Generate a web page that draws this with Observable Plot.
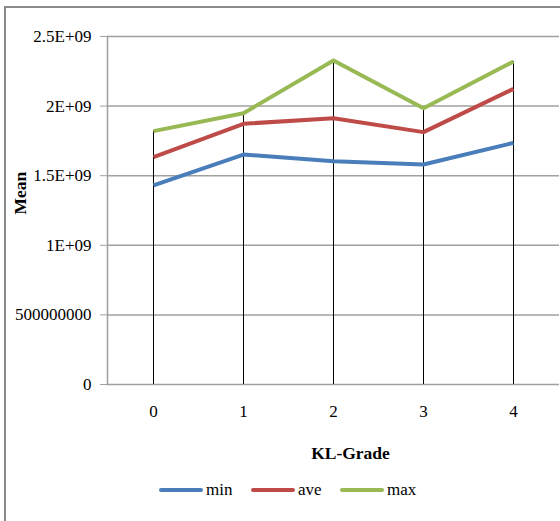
<!DOCTYPE html>
<html>
<head>
<meta charset="utf-8">
<script src="https://cdn.jsdelivr.net/npm/d3@7"></script>
<script src="https://cdn.jsdelivr.net/npm/@observablehq/plot@0.6"></script>
<style>
  html, body { margin: 0; padding: 0; background: #fff; }
  #wrap { position: relative; width: 560px; height: 521px; overflow: hidden; font-family: "Liberation Serif", "Times New Roman", serif; }
  #border { position: absolute; left: 4px; top: 6px; width: 560px; height: 530px; border-top: 2px solid #8a8a8a; border-left: 2px solid #8a8a8a; box-sizing: border-box; pointer-events: none; }
  #chart { position: absolute; left: 0; top: 0; }
  #chart svg text { font-family: "Liberation Serif", "Times New Roman", serif !important; }
  #legend { position: absolute; left: 0; top: 479px; width: 560px; height: 22px; }
  .item { position: absolute; top: 0; height: 22px; display: flex; align-items: center; font-size: 17px; color: #000; font-family: "Liberation Serif", "Times New Roman", serif; }
  .sw { width: 44px; height: 4px; border-radius: 2px; margin-right: 3px; }
</style>
</head>
<body>
<div id="wrap">
  <div id="chart"></div>
  <div id="border"></div>
  <div id="legend"></div>
</div>
<script>
const grades = [0, 1, 2, 3, 4];
const seriesNames = ["min", "ave", "max"];
const seriesColors = ["#4a7ebb", "#be4b48", "#98b954"];
const minVals = [1.430e9, 1.652e9, 1.604e9, 1.580e9, 1.736e9];
const aveVals = [1.633e9, 1.873e9, 1.913e9, 1.813e9, 2.124e9];
const maxVals = [1.820e9, 1.949e9, 2.328e9, 1.985e9, 2.320e9];
const yTickValues = [0, 5e8, 1e9, 1.5e9, 2e9, 2.5e9];
const yTickLabels = ["0", "500000000", "1E+09", "1.5E+09", "2E+09", "2.5E+09"];
const xTitle = "KL-Grade";
const yTitle = "Mean";

const seriesVals = [minVals, aveVals, maxVals];
const rows = [];
seriesNames.forEach((s, i) => grades.forEach((g, j) => rows.push({series: s, grade: g, value: seriesVals[i][j]})));
const maxRows = grades.map((g, j) => ({grade: g, value: maxVals[j]}));
const labelOf = new Map(yTickValues.map((v, i) => [v, yTickLabels[i]]));
const serif = "'Liberation Serif', 'Times New Roman', serif";

const plot = Plot.plot({
  width: 560,
  height: 470,
  marginTop: 36,
  marginLeft: 107,
  marginRight: 1,
  marginBottom: 86,
  style: {fontFamily: serif, fontSize: "17px", color: "#000", background: "transparent"},
  x: {type: "point", domain: grades, padding: 0.5, label: null},
  y: {domain: [0, 2.5e9], label: null},
  color: {domain: seriesNames, range: seriesColors},
  marks: [
    Plot.ruleY(yTickValues, {stroke: "#a0a0a0", strokeWidth: 1.5}),
    Plot.frame({anchor: "left", stroke: "#a0a0a0", strokeWidth: 1.5}),
    Plot.axisY({ticks: yTickValues, tickFormat: d => labelOf.get(d), tickSize: 7, stroke: "#a0a0a0", tickPadding: 9, fontSize: 17, fontFamily: serif, label: null}),
    Plot.axisX({tickSize: 0, tickPadding: 20, fontSize: 17, fontFamily: serif, label: null}),
    Plot.ruleX(maxRows, {x: "grade", y1: 0, y2: "value", stroke: "#000", strokeWidth: 1}),
    Plot.line(rows, {x: "grade", y: "value", z: "series", stroke: "series", strokeWidth: 4, strokeLinejoin: "round", strokeLinecap: "butt"}),
    Plot.text([yTitle], {frameAnchor: "left", dx: -87, dy: 4, rotate: -90, fontWeight: "bold", fontSize: 17.5, fontFamily: serif, fill: "#000"}),
    Plot.text([xTitle], {frameAnchor: "bottom", dx: 17, dy: 74, fontWeight: "bold", fontSize: 17.5, fontFamily: serif, fill: "#000"})
  ]
});
document.getElementById("chart").appendChild(plot);

const legend = document.getElementById("legend");
const legendX = [159, 251, 340];
seriesNames.forEach((s, i) => {
  const it = document.createElement("div");
  it.className = "item";
  it.style.left = legendX[i] + "px";
  const sw = document.createElement("div");
  sw.className = "sw";
  sw.style.background = seriesColors[i];
  const tx = document.createElement("span");
  tx.textContent = s;
  it.appendChild(sw);
  it.appendChild(tx);
  legend.appendChild(it);
});
</script>
</body>
</html>
